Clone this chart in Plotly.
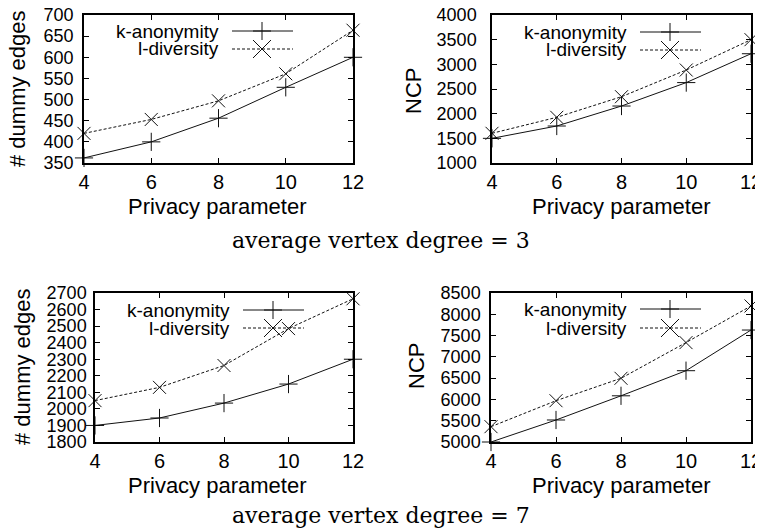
import plotly.graph_objects as go

# ---------------- data ----------------
privacy = [4, 6, 8, 10, 12]
x_ticks = [4, 6, 8, 10, 12]

d3_edges_k = [362, 400, 456, 529, 600]
d3_edges_l = [420, 453, 497, 561, 664]
d3_ncp_k = [1500, 1750, 2155, 2630, 3215]
d3_ncp_l = [1602, 1926, 2344, 2885, 3500]
d7_edges_k = [1900, 1945, 2035, 2150, 2300]
d7_edges_l = [2050, 2130, 2262, 2485, 2665]
d7_ncp_k = [5000, 5517, 6085, 6675, 7630]
d7_ncp_l = [5360, 5970, 6496, 7335, 8195]

series_names = ["k-anonymity", "l-diversity"]
y_titles = ["# dummy edges", "NCP", "# dummy edges", "NCP"]
x_title = "Privacy parameter"
captions = ["average vertex degree = 3", "average vertex degree = 7"]

y_ranges = [[350, 700], [1000, 4000], [1800, 2700], [5000, 8500]]
y_dticks = [50, 500, 100, 500]

# ---------------- layout helpers ----------------
# the page body has an 8px margin, so the figure starts at (8, 8) in the window
OFF = 8
W, H = 763 - OFF, 531 - OFF


def fx(px):
    return (px - OFF) / W


def fy(py):
    return 1 - (py - OFF) / H


SANS = "Liberation Sans, Arial, Helvetica, sans-serif"
SERIF = "DejaVu Serif, serif"
INK = "#111111"

panels = [
    dict(data=(d3_edges_k, d3_edges_l), box=(84, 15, 353, 163), ystand=5,
         ytitle=(18, 89), xtitle=(218, 207),
         leg=dict(rows=(31, 49), tr=220, l0=232, l1=293, m=262)),
    dict(data=(d3_ncp_k, d3_ncp_l), box=(492, 15, 751, 163), ystand=10,
         ytitle=(413, 91), xtitle=(621, 207),
         leg=dict(rows=(32, 50), tr=628, l0=640, l1=701, m=670)),
    dict(data=(d7_edges_k, d7_edges_l), box=(95, 293, 353, 442), ystand=3,
         ytitle=(22, 367), xtitle=(218, 485),
         leg=dict(rows=(310, 328), tr=231, l0=243, l1=304, m=273)),
    dict(data=(d7_ncp_k, d7_ncp_l), box=(491, 293, 751, 442), ystand=5,
         ytitle=(416, 366), xtitle=(621, 485),
         leg=dict(rows=(309, 328), tr=628, l0=640, l1=701, m=670)),
]

fig = go.Figure()
annotations = []
shapes = []
layout_axes = {}

styles = [
    dict(dash="solid", symbol="cross-thin"),
    dict(dash="3px,2px", symbol="x-thin"),
]

for i, p in enumerate(panels):
    sfx = "" if i == 0 else str(i + 1)
    xa, ya = "x" + sfx, "y" + sfx
    x0, y0, x1, y1 = p["box"]
    for s, (vals, st, name) in enumerate(zip(p["data"], styles, series_names)):
        fig.add_trace(go.Scatter(
            x=privacy, y=vals, xaxis=xa, yaxis=ya, name=name,
            mode="lines+markers", cliponaxis=False, showlegend=False,
            line=dict(color=INK, width=1, dash=st["dash"]),
            marker=dict(symbol=st["symbol"], size=13, color=INK,
                        line=dict(color=INK, width=1)),
        ))
    axis_common = dict(
        showline=True, linecolor="black", linewidth=1.5, mirror="ticks",
        ticks="inside", ticklen=5, tickwidth=1, tickcolor="black",
        showgrid=False, zeroline=False, automargin=False,
        ticklabeloverflow="allow",
    )
    layout_axes["xaxis" + sfx] = dict(
        axis_common, domain=[fx(x0), fx(x1)], range=[4, 12],
        tickmode="array", tickvals=x_ticks, anchor=ya,
        tickfont=dict(family=SANS, size=20, color="black"),
    )
    layout_axes["yaxis" + sfx] = dict(
        axis_common, domain=[fy(y1), fy(y0)], range=y_ranges[i],
        dtick=y_dticks[i], tick0=y_ranges[i][0], anchor=xa,
        ticklabelstandoff=p["ystand"],
        tickfont=dict(family=SANS, size=18, color="black"),
    )
    # axis titles
    annotations.append(dict(
        x=fx(p["xtitle"][0]), y=fy(p["xtitle"][1]), xref="paper", yref="paper",
        text=x_title, showarrow=False, xanchor="center", yanchor="middle",
        font=dict(family=SANS, size=22, color="black")))
    annotations.append(dict(
        x=fx(p["ytitle"][0]), y=fy(p["ytitle"][1]), xref="paper", yref="paper",
        text=y_titles[i], showarrow=False, textangle=-90,
        xanchor="center", yanchor="middle",
        font=dict(family=SANS, size=22, color="black")))
    # manual key (gnuplot style: text, then sample line with marker)
    lg = p["leg"]
    h = 9
    for r, (name, st) in enumerate(zip(series_names, styles)):
        ry = lg["rows"][r]
        annotations.append(dict(
            x=fx(lg["tr"]), y=fy(ry), xref="paper", yref="paper",
            text=name, showarrow=False, xanchor="right", yanchor="middle",
            borderpad=0, font=dict(family=SANS, size=19, color="black")))
        shapes.append(dict(
            type="line", xref="paper", yref="paper",
            x0=fx(lg["l0"]), x1=fx(lg["l1"]), y0=fy(ry), y1=fy(ry),
            line=dict(color=INK, width=1, dash=st["dash"])))
        m = lg["m"]
        if st["symbol"] == "cross-thin":
            path = (f"M{fx(m - h)},{fy(ry)} L{fx(m + h)},{fy(ry)} "
                    f"M{fx(m)},{fy(ry - h)} L{fx(m)},{fy(ry + h)}")
        else:
            path = (f"M{fx(m - h)},{fy(ry - h)} L{fx(m + h)},{fy(ry + h)} "
                    f"M{fx(m - h)},{fy(ry + h)} L{fx(m + h)},{fy(ry - h)}")
        shapes.append(dict(type="path", xref="paper", yref="paper", path=path,
                           line=dict(color=INK, width=1)))

for cap, cy in zip(captions, (240, 515)):
    annotations.append(dict(
        x=fx(381), y=fy(cy), xref="paper", yref="paper", text=cap,
        showarrow=False, xanchor="center", yanchor="middle",
        font=dict(family=SERIF, size=22, color="black")))

fig.update_layout(
    width=W, height=H,
    margin=dict(l=0, r=0, t=0, b=0, pad=0),
    paper_bgcolor="white", plot_bgcolor="white",
    showlegend=False,
    annotations=annotations, shapes=shapes,
    **layout_axes,
)

fig.write_html("out.html")
